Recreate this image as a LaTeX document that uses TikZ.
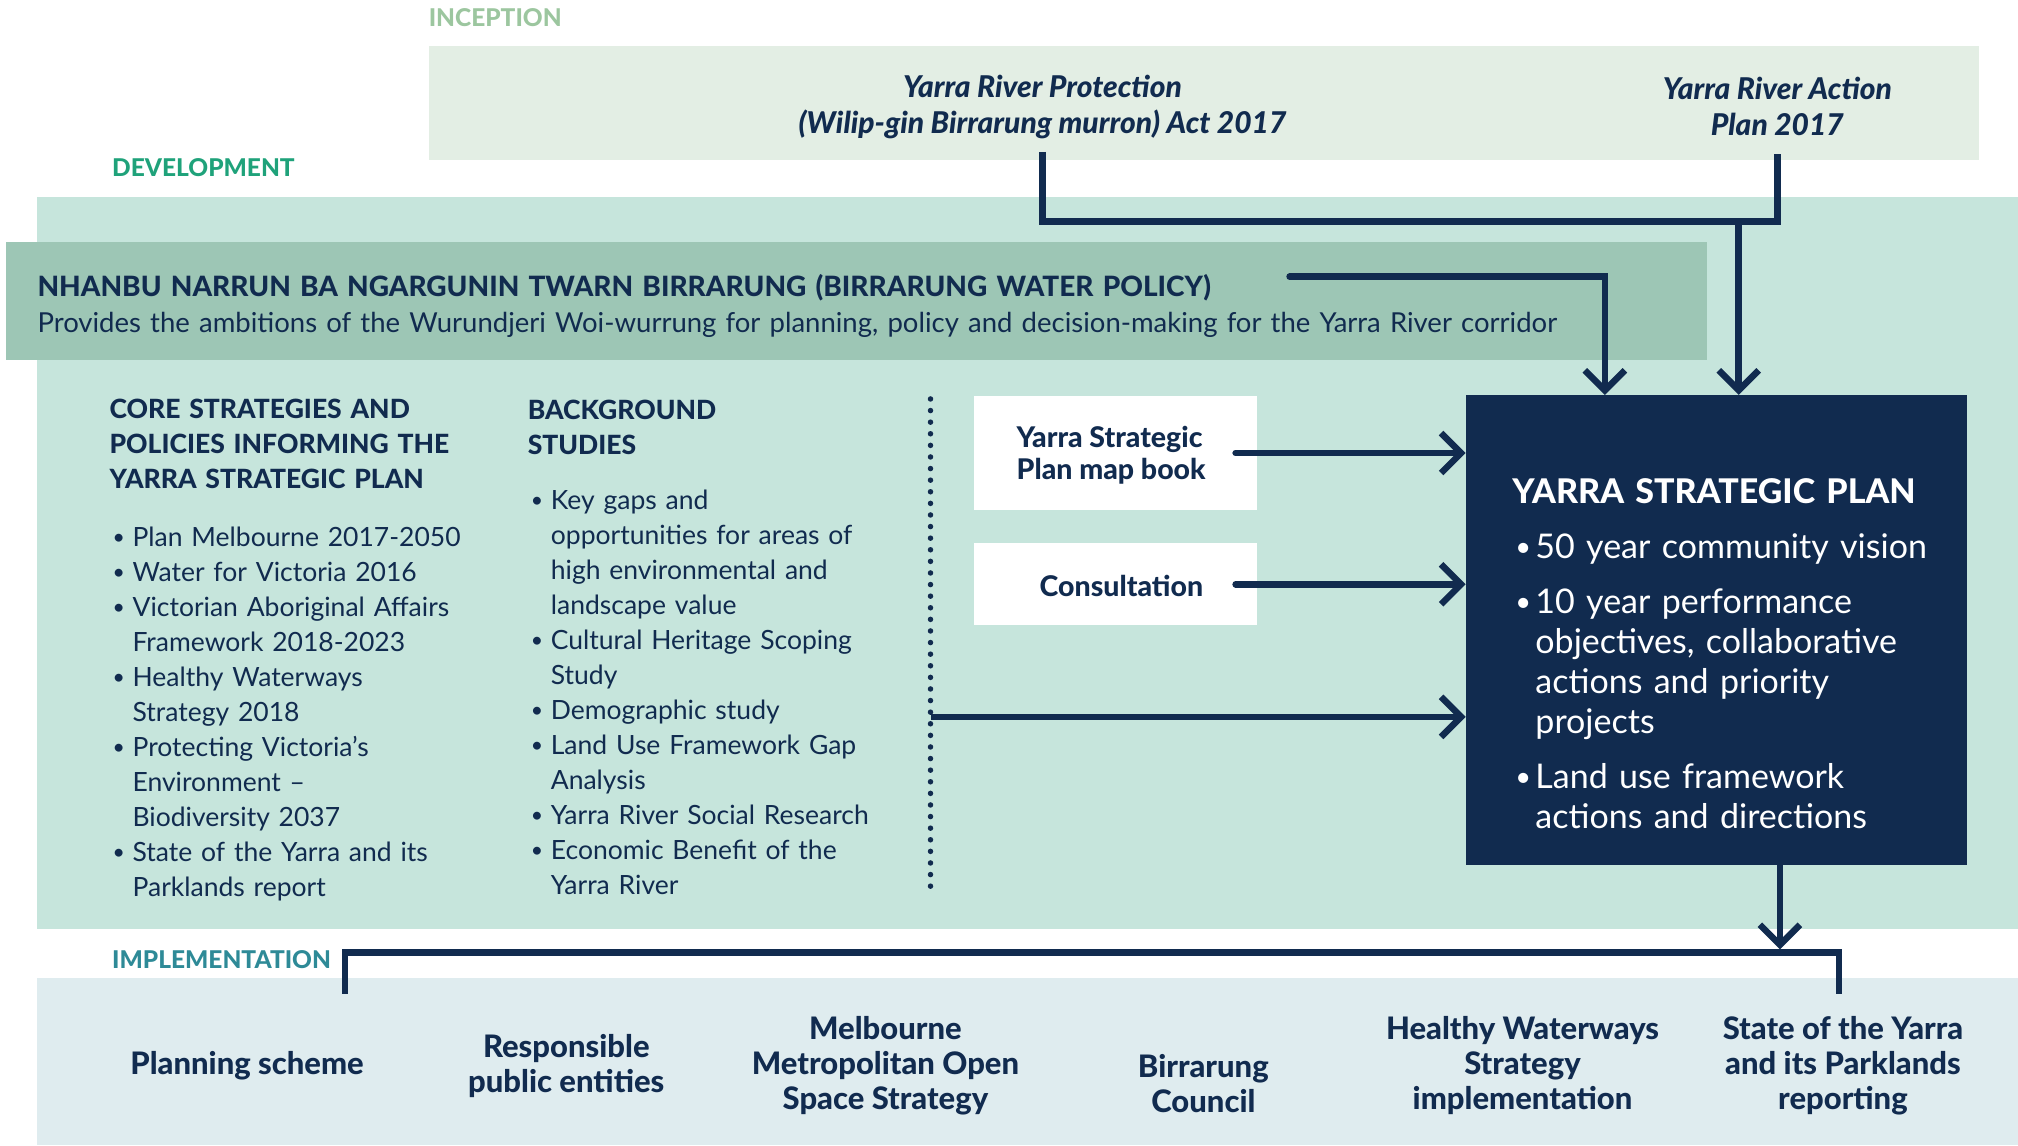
\documentclass[tikz,border=0pt]{standalone}
\usepackage{fontspec}
\IfFontExistsTF{Lato Heavy}
  {\setmainfont{Lato}[BoldFont={Lato Heavy}, BoldItalicFont={Lato Heavy Italic}]}
  {\setmainfont{Lato}}
\usetikzlibrary{arrows.meta,fit}

\definecolor{navy}{HTML}{112B4F}
\definecolor{inceptfill}{HTML}{E3EEE4}
\definecolor{devfill}{HTML}{C6E5DC}
\definecolor{policyfill}{HTML}{9DC6B5}
\definecolor{implfill}{HTML}{DFECEF}
\definecolor{inceptlabel}{HTML}{9CC69F}
\definecolor{devlabel}{HTML}{1FA27A}
\definecolor{impllabel}{HTML}{2E8A97}

\newcommand{\bl}[1][23pt]{\makebox[#1][l]{\hspace{3pt}\raisebox{0.06em}{\scalebox{0.8}{\textbullet}}}}
\newcommand{\ind}[1][23pt]{\hspace*{#1}}

\begin{document}
\begin{tikzpicture}[x=1.287pt, y=-1.287pt,
    band/.style={inner sep=0pt, draw=none},
    stagelabel/.style={font=\fontsize{24.5}{28}\selectfont\bfseries, anchor=west, inner sep=0pt},
    incepttext/.style={font=\fontsize{30}{36}\selectfont\bfseries\itshape, text=navy, align=center, inner sep=0pt},
    body/.style={font=\fontsize{26.5}{35}\selectfont, text=navy, align=left, anchor=west, inner sep=0pt},
    boxtext/.style={font=\fontsize{28.5}{32}\selectfont\bfseries, text=navy, align=left, inner sep=0pt},
    impltext/.style={font=\fontsize{31}{35}\selectfont\bfseries, text=navy, align=center, inner sep=0pt},
    ysptext/.style={font=\fontsize{34}{40}\selectfont, text=white, text width=460pt, align=left, anchor=west, inner sep=0pt},
    conn/.style={draw=navy, line width=6.5pt},
    arr/.style={conn, -{Straight Barb[length=20pt,width=40pt]}},
    dots/.style={draw=navy, line width=5.5pt, line cap=round, dash pattern=on 0pt off 11.6pt},
  ]
  \useasboundingbox (0,0) rectangle (1568,890);

  % stage bands
  \node[band, fill=inceptfill, fit={(333,36) (1538,124)}] (inception) {};
  \node[band, fill=devfill, fit={(29,153) (1568,722)}] (development) {};
  \node[band, fill=policyfill, fit={(5,188) (1326,280)}] (policyband) {};
  \node[band, fill=implfill, fit={(29,760) (1568,890)}] (implementation) {};

  \node[stagelabel, text=inceptlabel] (inceptlbl) at (333,14) {INCEPTION};
  \node[stagelabel, text=devlabel] (devlbl) at (87,130) {DEVELOPMENT};
  \node[stagelabel, text=impllabel] (impllbl) at (87,746) {IMPLEMENTATION};

  % inception
  \node[incepttext] (act) at (810,83) {Yarra River Protection\\(Wilip-gin Birrarung murron) Act 2017};
  \node[incepttext] (actplan) at (1381,83) {Yarra River Action\\Plan 2017};

  % development
  \node[body, font=\fontsize{27.5}{36}\selectfont, text width=1600pt] (policy) at (29,238)
    {{\fontsize{28}{36}\selectfont\bfseries NHANBU NARRUN BA NGARGUNIN TWARN BIRRARUNG (BIRRARUNG WATER POLICY)}\\
     Provides the ambitions of the Wurundjeri Woi-wurrung for planning, policy and decision-making for the Yarra River corridor};

  \node[body, text width=420pt] (core) at (85,505) {%
    \textbf{CORE STRATEGIES AND}\\
    \textbf{POLICIES INFORMING THE}\\
    \textbf{YARRA STRATEGIC PLAN}\\[23pt]
    \bl Plan Melbourne 2017-2050\\
    \bl Water for Victoria 2016\\
    \bl Victorian Aboriginal Affairs\\
    \ind Framework 2018-2023\\
    \bl Healthy Waterways\\
    \ind Strategy 2018\\
    \bl Protecting Victoria’s\\
    \ind Environment –\\
    \ind Biodiversity 2037\\
    \bl State of the Yarra and its\\
    \ind Parklands report};

  \node[body, text width=400pt] (background) at (410,503) {%
    \textbf{BACKGROUND}\\
    \textbf{STUDIES}\\[20pt]
    \bl Key gaps and\\
    \ind opportunities for areas of\\
    \ind high environmental and\\
    \ind landscape value\\
    \bl Cultural Heritage Scoping\\
    \ind Study\\
    \bl Demographic study\\
    \bl Land Use Framework Gap\\
    \ind Analysis\\
    \bl Yarra River Social Research\\
    \bl Economic Benefit of the\\
    \ind Yarra River};

  \coordinate (dottop) at (723,310);
  \coordinate (dotbot) at (723,692);
  \draw[dots] (dottop) -- (dotbot);

  \node[band, fill=white, fit={(757,308) (977,396)}] (mapbox) {};
  \node[boxtext, anchor=east] (mapbook) at (937,354) {Yarra Strategic\\Plan map book};
  \node[band, fill=white, fit={(757,422) (977,486)}] (consultbox) {};
  \node[boxtext, anchor=east] (consult) at (935,455) {Consultation};

  \node[band, fill=navy, fit={(1139,307) (1528,672)}] (ysp) {};
  \node[ysptext] (yspbody) at (1175,508) {%
    {\fontsize{34}{44}\selectfont\bfseries YARRA STRATEGIC PLAN\par}\vspace{15pt}
    \bl[23pt]50 year community vision\par\vspace{15pt}
    \bl[23pt]10 year performance\\
    \ind[23pt]objectives, collaborative\\
    \ind[23pt]actions and priority\\
    \ind[23pt]projects\par\vspace{15pt}
    \bl[23pt]Land use framework\\
    \ind[23pt]actions and directions\par};

  % implementation
  \node[impltext] (planning) at (192,828) {Planning scheme};
  \node[impltext] (entities) at (440,828) {Responsible\\public entities};
  \node[impltext] (openspace) at (688,828) {Melbourne\\Metropolitan Open\\Space Strategy};
  \node[impltext] (council) at (935,842) {Birrarung\\Council};
  \node[impltext] (waterways) at (1183,828) {Healthy Waterways\\Strategy\\implementation};
  \node[impltext] (soy) at (1432,828) {State of the Yarra\\and its Parklands\\reporting};

  % connectors
  \coordinate (join) at (1351,172);
  \draw[conn, shorten <=13pt, shorten >=18pt] (act.south) |- (join -| actplan.south) -- (actplan.south);
  \draw[arr] (join) -- (join |- ysp.north);

  \coordinate (polout) at (1002,215);
  \coordinate (polx) at (1247,0);
  \draw[arr, line cap=round] (polout) -| (polx |- ysp.north);

  \draw[arr, line cap=round] ([xshift=-22pt]mapbox.east) -- (mapbox.east -| ysp.west);
  \draw[arr, line cap=round] ([xshift=-22pt]consultbox.east) -- (consultbox.east -| ysp.west);
  \coordinate (dotout) at (723,557);
  \draw[arr] (dotout) -- (dotout -| ysp.west);

  \coordinate (tickL) at (268,772);
  \coordinate (barR) at (1429,740);
  \coordinate (tickR) at (1429,772);
  \draw[conn] (tickL) |- (barR) -- (tickR);
  \coordinate (yspout) at (1383,740);
  \draw[arr, shorten >=3pt] (yspout |- ysp.south) -- (yspout);
\end{tikzpicture}
\end{document}
